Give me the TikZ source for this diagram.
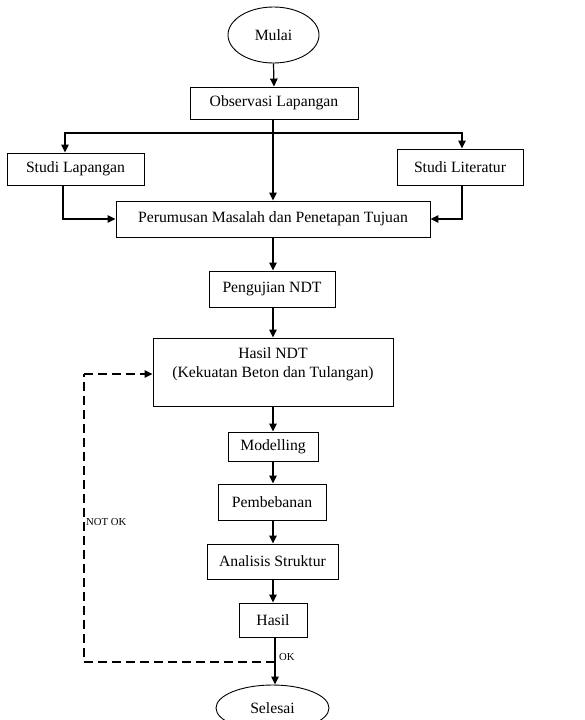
\documentclass[tikz,border=0pt]{standalone}
\usepackage{fontspec}
\setmainfont{Liberation Serif}
\usetikzlibrary{shapes.geometric,arrows.meta}
\begin{document}
\begin{tikzpicture}[x=1pt,y=-1pt,
  box/.style={draw,line width=0.9pt,rectangle,inner sep=0pt,font=\fontsize{15.7}{19}\selectfont,align=center},
  oval/.style={draw,line width=0.9pt,ellipse,inner sep=0pt,font=\fontsize{15.7}{19}\selectfont},
  arr/.style={line width=1.2pt,-{Triangle[length=8pt,width=7.5pt]}},
  ln/.style={line width=1.2pt},
  dsh/.style={line width=1.2pt,dash pattern=on 9pt off 5pt},
  lbl/.style={font=\fontsize{10.7}{12}\selectfont,inner sep=1pt}]
\useasboundingbox (0,0) rectangle (585,720);
\node[oval,minimum width=91,minimum height=56] (mulai) at (273.5,35) {Mulai};
\node[box,minimum width=168,minimum height=32] (obs) at (274,103) {Observasi Lapangan};
\node[box,minimum width=137,minimum height=32] (sl) at (75.5,169) {Studi Lapangan};
\node[box,minimum width=126,minimum height=36] (slit) at (460,167) {Studi Literatur};
\node[box,minimum width=314,minimum height=36] (per) at (273,219) {Perumusan Masalah dan Penetapan Tujuan};
\node[box,minimum width=126,minimum height=36] (peng) at (272,289) {Pengujian NDT};
\node[box,minimum width=240,minimum height=68] (ndt) at (273,372) {Hasil NDT\\(Kekuatan Beton dan Tulangan)\\\mbox{}};
\node[box,minimum width=90,minimum height=29] (mod) at (273,446.5) {Modelling};
\node[box,minimum width=108,minimum height=36] (pem) at (272,502) {Pembebanan};
\node[box,minimum width=131,minimum height=35] (ana) at (272.5,561.5) {Analisis Struktur};
\node[box,minimum width=68,minimum height=34] (has) at (273,620) {Hasil};
\node[oval,minimum width=113,minimum height=46] (sel) at (272.5,708) {Selesai};
\coordinate (br) at (273,133);
\coordinate (dk) at (275,662);
\draw[arr] (mulai.south) -- (obs.north);
\draw[arr] (obs.south -| br) -- (per.north -| br);
\draw[arr] (br) -| ([xshift=-10.5pt]sl.north);
\draw[arr] (br) -| ([xshift=2pt]slit.north);
\draw[arr] ([xshift=-12.5pt]sl.south) |- (per.west);
\draw[arr] ([xshift=2pt]slit.south) |- (per.east);
\draw[arr] (per.south -| br) -- (peng.north -| br);
\draw[arr] (peng.south -| br) -- (ndt.north -| br);
\draw[arr] (ndt.south -| br) -- (mod.north -| br);
\draw[arr] (mod.south -| br) -- (pem.north -| br);
\draw[arr] (pem.south -| br) -- (ana.north -| br);
\draw[arr] (ana.south -| br) -- (has.north -| br);
\draw[arr] (has.south -| dk) -- (sel.north -| dk);
\draw[dsh] (dk) -- ++(-191,0) coordinate (dl) -- ([yshift=-2pt]dl |- ndt.west);
\draw[dsh,-{Triangle[length=8pt,width=7.5pt]}] ([yshift=-2pt]dl |- ndt.west) -- ([yshift=-2pt]ndt.west);
\node[lbl,anchor=west] (notok) at (85,522) {NOT OK};
\node[lbl,anchor=west] (ok) at (278,657) {OK};
\end{tikzpicture}
\end{document}
